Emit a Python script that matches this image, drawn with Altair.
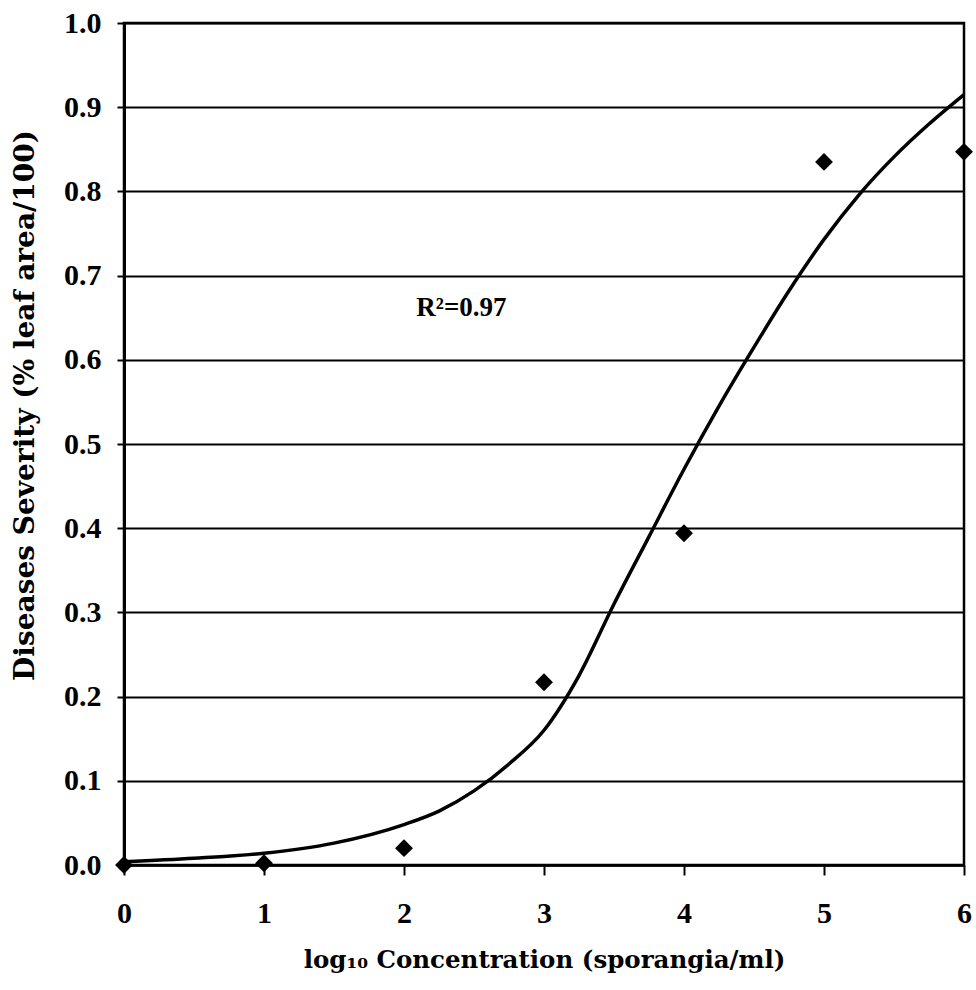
import altair as alt
import pandas as pd

# observed points
obs_x = [0, 1, 2, 3, 4, 5, 6]
obs_y = [0.0, 0.002, 0.020, 0.217, 0.394, 0.835, 0.847]

# fitted curve
fit_x = [0, 0.5, 1.0, 1.5, 2.0, 2.25, 2.5, 2.75, 3.0, 3.25, 3.5, 3.75, 4.0, 4.25, 4.5, 4.75, 5.0, 5.25, 5.5, 5.75, 6.0]
fit_y = [0.004, 0.008, 0.014, 0.026, 0.048, 0.064, 0.088, 0.12, 0.16, 0.225, 0.31, 0.39, 0.47, 0.545, 0.615, 0.682, 0.743, 0.796, 0.841, 0.88, 0.915]

ann_x = [2.41]
ann_y = [0.662]
ann_text = ["R²=0.97"]

obs = pd.DataFrame({"x": obs_x, "y": obs_y})
fit = pd.DataFrame({"x": fit_x, "y": fit_y})
ann = pd.DataFrame({"x": ann_x, "y": ann_y, "t": ann_text})

LFONT = "Liberation Serif"
TFONT = "DejaVu Serif"

xs = alt.Scale(domain=[0, 6], nice=False, zero=False)
ys = alt.Scale(domain=[0, 1], nice=False)

xaxis = alt.Axis(values=[0, 1, 2, 3, 4, 5, 6], format="d", grid=False,
                 tickSize=10, tickWidth=2, tickColor="black",
                 domainColor="black", domainWidth=2.5,
                 labelFont=LFONT, labelFontWeight="bold", labelFontSize=30,
                 labelColor="black", labelBaseline="alphabetic", labelPadding=47,
                 labelFlush=False, labelOverlap=False,
                 title="log₁₀ Concentration (sporangia/ml)",
                 titleFont=TFONT, titleFontWeight="bold", titleFontSize=24.5,
                 titleColor="black", titleBaseline="alphabetic",
                 titleX=420, titleY=102, titleAlign="center")
yaxis = alt.Axis(values=[0, 0.1, 0.2, 0.3, 0.4, 0.5, 0.6, 0.7, 0.8, 0.9, 1.0],
                 format=".1f", grid=True, gridColor="black", gridWidth=2, gridOpacity=1,
                 tickSize=7, tickWidth=2, tickColor="black",
                 domainColor="black", domainWidth=3,
                 labelFont=LFONT, labelFontWeight="bold", labelFontSize=30,
                 labelColor="black", labelPadding=16, labelFlush=False, labelOverlap=False,
                 title="Diseases Severity (% leaf area/100)",
                 titleFont=TFONT, titleFontWeight="bold", titleFontSize=28,
                 titleColor="black", titleAngle=270, titleBaseline="middle",
                 titleAlign="center", titleX=-99, titleY=382)

line = alt.Chart(fit).mark_line(color="black", strokeWidth=3.5, interpolate="monotone").encode(
    x=alt.X("x:Q", scale=xs, axis=xaxis),
    y=alt.Y("y:Q", scale=ys, axis=yaxis),
)
pts = alt.Chart(obs).mark_point(shape="diamond", filled=True, color="black", size=320, opacity=1).encode(
    x=alt.X("x:Q", scale=xs),
    y=alt.Y("y:Q", scale=ys),
)
txt = alt.Chart(ann).mark_text(font=LFONT, fontWeight="bold", fontSize=27, color="black").encode(
    x=alt.X("x:Q", scale=xs),
    y=alt.Y("y:Q", scale=ys),
    text="t:N",
)

chart = alt.layer(line, pts, txt).properties(
    width=840, height=842,
    autosize=alt.AutoSizeParams(type="none"),
    padding={"left": 124, "top": 23, "right": 12, "bottom": 125},
    background="white",
).configure_view(stroke="black", strokeWidth=2.5)

chart.save("out.html", embed_options={"renderer": "svg", "actions": False})
